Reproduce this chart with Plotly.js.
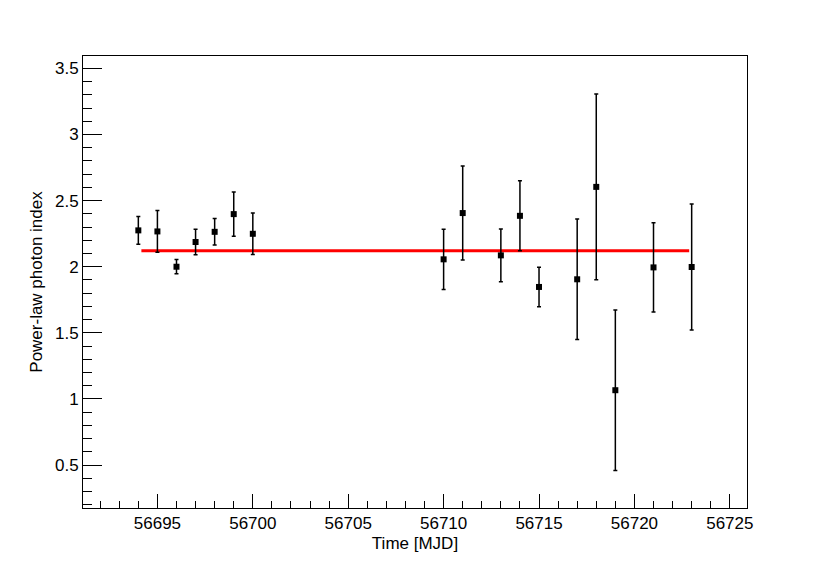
<!DOCTYPE html>
<html>
<head>
<meta charset="utf-8">
<script src="https://cdn.plot.ly/plotly-3.0.1.min.js"></script>
<style>html,body{margin:0;padding:0;background:#fff;}#chart{width:830px;height:565px;}</style>
</head>
<body>
<div id="chart"></div>
<script>
// Observation times (MJD)
var timeMJD = [56694, 56695, 56696, 56697, 56698, 56699, 56700,
               56710, 56711, 56713, 56714, 56715, 56717, 56718, 56719, 56721, 56723];
// Power-law photon index values
var photonIndex = [2.275, 2.267, 2.000, 2.187, 2.264, 2.398, 2.249,
                   2.056, 2.406, 2.086, 2.385, 1.847, 1.905, 2.604, 1.066, 1.995, 1.998];
// Symmetric errors on the photon index
var indexErr = [0.105, 0.158, 0.054, 0.097, 0.100, 0.167, 0.157,
                0.228, 0.355, 0.200, 0.265, 0.149, 0.456, 0.703, 0.607, 0.337, 0.476];
// Constant fit (red line)
var fitX = [56694.16, 56722.87];
var fitY = [2.121, 2.121];

var font = "'Liberation Sans', Arial, Helvetica, sans-serif";

var traces = [
  {
    x: fitX, y: fitY, type: 'scatter', mode: 'lines',
    line: {color: '#ff0000', width: 3}, hoverinfo: 'skip', showlegend: false
  },
  {
    x: timeMJD, y: photonIndex, type: 'scatter', mode: 'markers',
    marker: {symbol: 'square', size: 6, color: '#000'},
    error_y: {type: 'data', array: indexErr, visible: true, color: '#000', thickness: 1.5, width: 2},
    showlegend: false
  }
];

var layout = {
  width: 830, height: 565,
  margin: {l: 83, r: 83, t: 56, b: 57},
  paper_bgcolor: '#fff', plot_bgcolor: '#fff',
  font: {family: font, size: 17, color: '#000'},
  showlegend: false,
  xaxis: {
    range: [56691.1, 56725.9],
    showgrid: false, zeroline: false,
    showline: true, mirror: true, linecolor: '#000', linewidth: 1,
    ticks: 'inside', ticklen: 14, tickwidth: 1, tickcolor: '#000',
    tick0: 56695, dtick: 5,
    minor: {ticks: 'inside', ticklen: 7, tickwidth: 1, tickcolor: '#000', dtick: 1, showgrid: false},
    tickformat: 'd',
    tickfont: {family: font, size: 17},
    title: {text: 'Time [MJD]', font: {family: font, size: 17}, standoff: 4}
  },
  yaxis: {
    range: [0.175, 3.594],
    showgrid: false, zeroline: false,
    showline: true, mirror: true, linecolor: '#000', linewidth: 1,
    ticks: 'inside', ticklen: 19, tickwidth: 1, tickcolor: '#000',
    tick0: 0.5, dtick: 0.5,
    minor: {ticks: 'inside', ticklen: 9, tickwidth: 1, tickcolor: '#000', dtick: 0.1, showgrid: false},
    tickfont: {family: font, size: 17},
    title: {text: 'Power-law photon index', font: {family: font, size: 17}, standoff: 8}
  }
};

Plotly.newPlot('chart', traces, layout, {displayModeBar: false, staticPlot: true});
</script>
</body>
</html>
